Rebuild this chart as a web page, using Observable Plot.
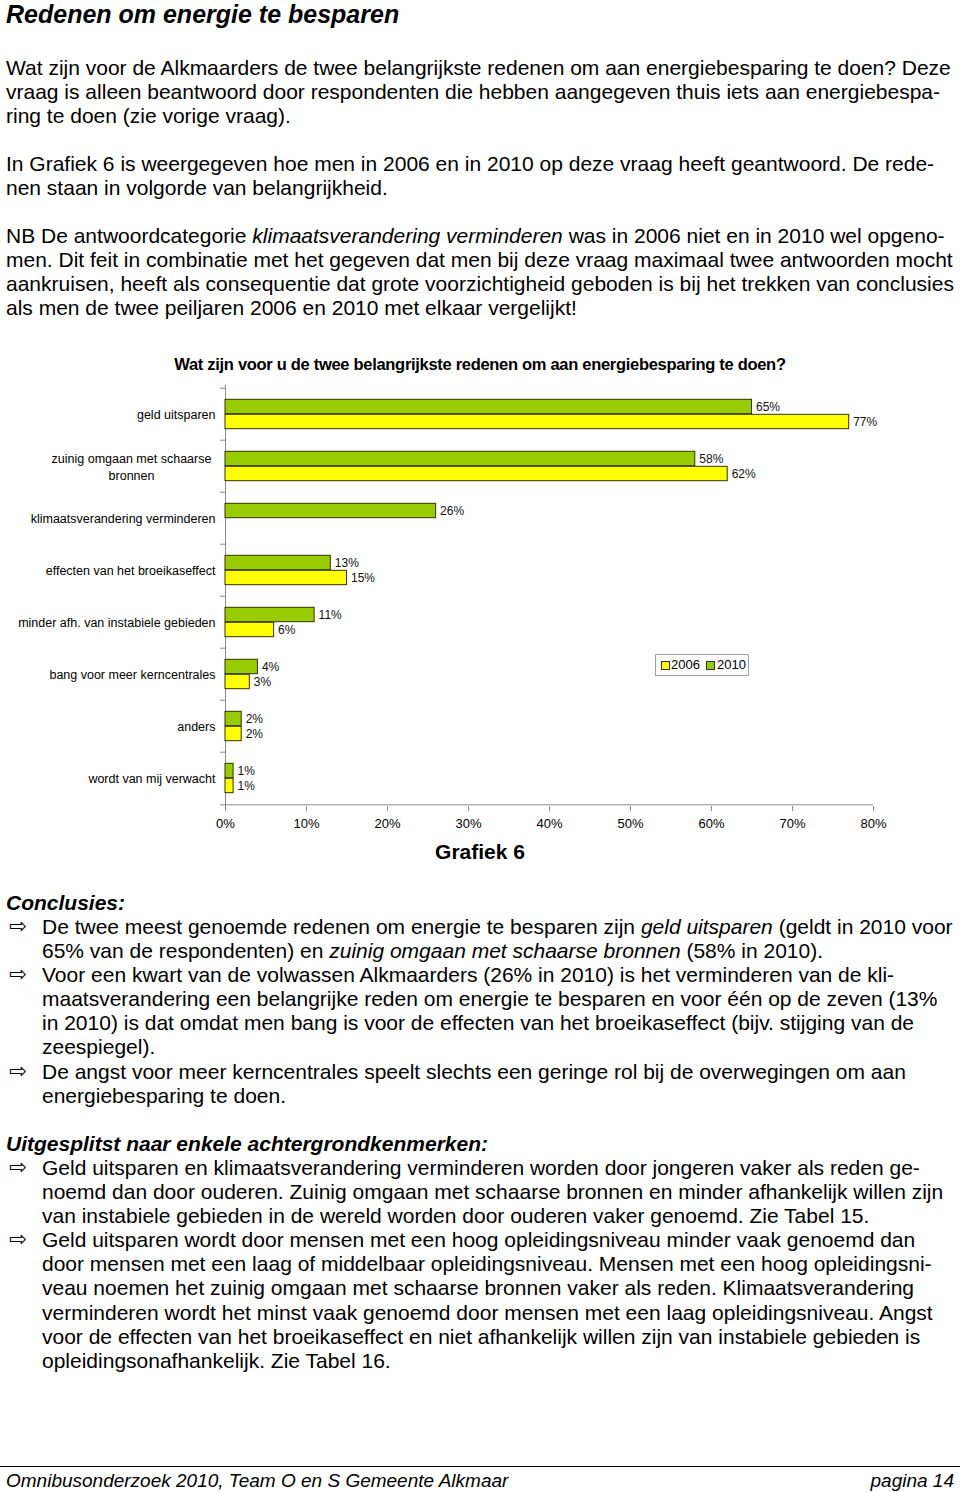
<!DOCTYPE html>
<html><head><meta charset="utf-8">
<script src="https://cdn.jsdelivr.net/npm/d3@7"></script>
<script src="https://cdn.jsdelivr.net/npm/@observablehq/plot@0.6"></script>
<style>
body{margin:0;background:#fff;}
#page{position:relative;width:960px;height:1492px;font-family:"Liberation Sans",Arial,Helvetica,sans-serif;color:#000;overflow:hidden;background:#fff}
.abs{position:absolute;left:0}
.p{font-size:21px;line-height:24.15px;white-space:nowrap}
.p div{padding-left:6px}
.li div{padding-left:42px;position:relative}
.arrow{position:absolute;left:9px;top:-1px;font-family:"DejaVu Sans",sans-serif;font-size:21px}
h1{margin:0;font-size:25px;font-weight:bold;font-style:italic;position:absolute;left:6px;top:1.5px;line-height:25px}
.head{font-weight:bold;font-style:italic}
#ctitle{position:absolute;left:0;width:960px;top:355px;text-align:center;font-weight:bold;font-size:16.5px;letter-spacing:-0.3px;white-space:nowrap}
#chart{position:absolute;left:0;top:375px}
#graf{position:absolute;left:0;width:960px;top:840px;text-align:center;font-weight:bold;font-size:21px}
#legend{position:absolute;left:655px;top:654px;width:94px;height:22px;border:1px solid #a0a0a0;font-size:13px;line-height:20px;white-space:nowrap;box-sizing:border-box}
#legend span{position:absolute;top:0}
#legend span.sw{width:7px;height:7px;border:1px solid #333;top:6px}
#foot{position:absolute;left:0;top:1466px;width:960px;border-top:1.5px solid #000}
#foot div{position:absolute;top:3px;font-style:italic;font-size:19px;line-height:22px;white-space:nowrap}
</style></head>
<body>
<div id="page">
<h1>Redenen om energie te besparen</h1>
<div class="abs p" style="top:55.5px">
<div>Wat zijn voor de Alkmaarders de twee belangrijkste redenen om aan energiebesparing te doen? Deze</div>
<div>vraag is alleen beantwoord door respondenten die hebben aangegeven thuis iets aan energiebespa-</div>
<div>ring te doen (zie vorige vraag).</div>
</div>
<div class="abs p" style="top:151.5px">
<div>In Grafiek 6 is weergegeven hoe men in 2006 en in 2010 op deze vraag heeft geantwoord. De rede-</div>
<div>nen staan in volgorde van belangrijkheid.</div>
</div>
<div class="abs p" style="top:223.5px">
<div>NB De antwoordcategorie <i>klimaatsverandering verminderen</i> was in 2006 niet en in 2010 wel opgeno-</div>
<div>men. Dit feit in combinatie met het gegeven dat men bij deze vraag maximaal twee antwoorden mocht</div>
<div>aankruisen, heeft als consequentie dat grote voorzichtigheid geboden is bij het trekken van conclusies</div>
<div>als men de twee peiljaren 2006 en 2010 met elkaar vergelijkt!</div>
</div>
<div id="ctitle">Wat zijn voor u de twee belangrijkste redenen om aan energiebesparing te doen?</div>
<div id="chart"></div>
<div id="legend"></div>
<div id="graf">Grafiek 6</div>

<div class="abs p li" style="top:890.5px">
<div class="head" style="padding-left:6px">Conclusies:</div>
<div><span class="arrow">⇨</span>De twee meest genoemde redenen om energie te besparen zijn <i>geld uitsparen</i> (geldt in 2010 voor</div>
<div>65% van de respondenten) en <i>zuinig omgaan met schaarse bronnen</i> (58% in 2010).</div>
<div><span class="arrow">⇨</span>Voor een kwart van de volwassen Alkmaarders (26% in 2010) is het verminderen van de kli-</div>
<div>maatsverandering een belangrijke reden om energie te besparen en voor één op de zeven (13%</div>
<div>in 2010) is dat omdat men bang is voor de effecten van het broeikaseffect (bijv. stijging van de</div>
<div>zeespiegel).</div>
<div><span class="arrow">⇨</span>De angst voor meer kerncentrales speelt slechts een geringe rol bij de overwegingen om aan</div>
<div>energiebesparing te doen.</div>
</div>

<div class="abs p li" style="top:1131.5px">
<div class="head" style="padding-left:6px">Uitgesplitst naar enkele achtergrondkenmerken:</div>
<div><span class="arrow">⇨</span>Geld uitsparen en klimaatsverandering verminderen worden door jongeren vaker als reden ge-</div>
<div>noemd dan door ouderen. Zuinig omgaan met schaarse bronnen en minder afhankelijk willen zijn</div>
<div>van instabiele gebieden in de wereld worden door ouderen vaker genoemd. Zie Tabel 15.</div>
<div><span class="arrow">⇨</span>Geld uitsparen wordt door mensen met een hoog opleidingsniveau minder vaak genoemd dan</div>
<div>door mensen met een laag of middelbaar opleidingsniveau. Mensen met een hoog opleidingsni-</div>
<div>veau noemen het zuinig omgaan met schaarse bronnen vaker als reden. Klimaatsverandering</div>
<div>verminderen wordt het minst vaak genoemd door mensen met een laag opleidingsniveau. Angst</div>
<div>voor de effecten van het broeikaseffect en niet afhankelijk willen zijn van instabiele gebieden is</div>
<div>opleidingsonafhankelijk. Zie Tabel 16.</div>
</div>

<div id="foot">
<div style="left:6px">Omnibusonderzoek 2010, Team O en S Gemeente Alkmaar</div>
<div style="right:6px">pagina 14</div>
</div>
</div>

<script>
// ---- data ----
const categories = [
  "geld uitsparen",
  "zuinig omgaan met schaarse bronnen",
  "klimaatsverandering verminderen",
  "effecten van het broeikaseffect",
  "minder afh. van instabiele gebieden",
  "bang voor meer kerncentrales",
  "anders",
  "wordt van mij verwacht"
];
const categoryLabels = [
  "geld uitsparen",
  "zuinig omgaan met schaarse\nbronnen",
  "klimaatsverandering verminderen",
  "effecten van het broeikaseffect",
  "minder afh. van instabiele gebieden",
  "bang voor meer kerncentrales",
  "anders",
  "wordt van mij verwacht"
];
const values2010 = [65, 58, 26, 13, 11, 4, 2, 1];
const values2006 = [77, 62, null, 15, 6, 3, 2, 1];
const years = ["2006", "2010"];
const yearColors = ["#ffff00", "#99cc00"];
const xTicks = [0, 10, 20, 30, 40, 50, 60, 70, 80];

// ---- tables ----
const rows2010 = categories.map((c, i) => ({cat: c, label: categoryLabels[i], v: values2010[i]})).filter(d => d.v != null);
const rows2006 = categories.map((c, i) => ({cat: c, label: categoryLabels[i], v: values2006[i]})).filter(d => d.v != null);
const labelOf = new Map(categories.map((c, i) => [c, categoryLabels[i]]));

// ---- layout ----
const W = 960, H = 460, mT = 10, mB = 29, mL = 225, mR = 87;
const bw = (H - mT - mB) / categories.length;
const barH = 15;
const gray = "#8c8c8c";
const barStroke = "#333300";

const chart = Plot.plot({
  width: W, height: H,
  marginLeft: mL, marginRight: mR, marginTop: mT, marginBottom: mB,
  style: {fontFamily: "'Liberation Sans', Arial, sans-serif", background: "transparent", color: "#000"},
  x: {domain: [0, 80], label: null},
  y: {domain: categories, padding: 0, label: null},
  marks: [
    Plot.ruleX([0], {stroke: gray}),
    Plot.axisY(categories, {tickSize: 5, text: null, dy: -bw / 2, stroke: gray, label: null}),
    Plot.axisY([categories[categories.length - 1]], {tickSize: 5, text: null, dy: bw / 2, stroke: gray, label: null}),
    Plot.ruleY([categories[categories.length - 1]], {dy: bw / 2, x1: 0, x2: 80, stroke: gray}),
    Plot.axisX(xTicks, {tickSize: 5, text: null, stroke: gray, label: null}),
    Plot.axisX(xTicks, {tickSize: 0, tickPadding: 12, tickFormat: d => d + "%", fill: "#000", fontSize: 13, label: null}),
    Plot.barX(rows2010, {x: "v", y: "cat", fill: yearColors[1], stroke: barStroke, strokeWidth: 1,
      insetTop: bw / 2 - barH, insetBottom: bw / 2}),
    Plot.barX(rows2006, {x: "v", y: "cat", fill: yearColors[0], stroke: barStroke, strokeWidth: 1,
      insetTop: bw / 2, insetBottom: bw / 2 - barH}),
    Plot.text(rows2010, {x: "v", y: "cat", text: d => d.v + "%", textAnchor: "start", dx: 4, dy: -barH / 2,
      fontSize: 12, fill: "#111"}),
    Plot.text(rows2006, {x: "v", y: "cat", text: d => d.v + "%", textAnchor: "start", dx: 4, dy: barH / 2,
      fontSize: 12, fill: "#111"}),
    Plot.text(categories.filter(c => !labelOf.get(c).includes("\n")), {y: d => d, text: d => labelOf.get(d),
      frameAnchor: "left", textAnchor: "end", dx: -10, fontSize: 12.5, fill: "#000", letterSpacing: -0.3}),
    Plot.text(categories.filter(c => labelOf.get(c).includes("\n")), {y: d => d, text: d => labelOf.get(d),
      frameAnchor: "left", textAnchor: "middle", dx: -94, fontSize: 12.5, lineHeight: 1.35, fill: "#000", letterSpacing: -0.3})
  ]
});
document.getElementById("chart").appendChild(chart);

// legend
const lg = document.getElementById("legend");
const swLeft = [5, 50], txtLeft = [15, 61];
years.forEach((y, i) => {
  const sw = document.createElement("span");
  sw.className = "sw"; sw.style.background = yearColors[i]; sw.style.left = swLeft[i] + "px";
  const t = document.createElement("span");
  t.className = "t"; t.textContent = y; t.style.left = txtLeft[i] + "px";
  lg.appendChild(sw); lg.appendChild(t);
});
</script>
</body></html>
